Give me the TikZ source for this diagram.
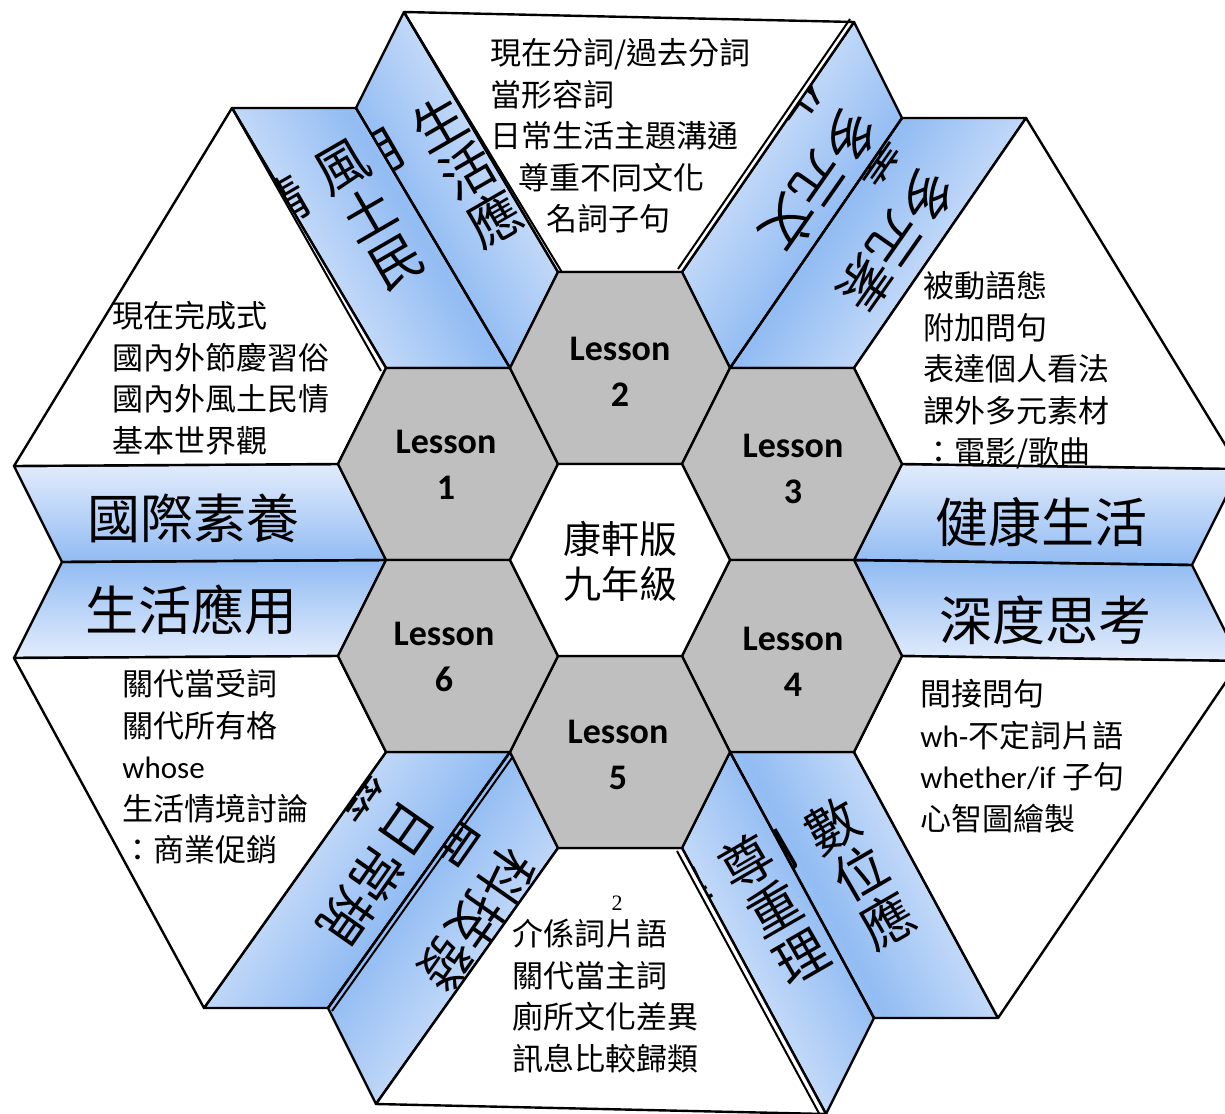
\documentclass[tikz,border=0pt]{standalone}
\usepackage{fontspec}
\setmainfont{Carlito}
\newfontfamily\cjk{Noto Sans CJK TC}
\newfontfamily\numserif{Liberation Serif}
\usetikzlibrary{calc}

\definecolor{hexgray}{RGB}{191,191,191}
\definecolor{ribbonlight}{RGB}{226,236,252}
\definecolor{ribbondark}{RGB}{146,188,243}

\newcommand{\topicfont}{\cjk\fontsize{15.5pt}{20.75pt}\selectfont}
\newcommand{\lessonfont}{\rmfamily\bfseries\fontsize{18pt}{23pt}\selectfont}
\newcommand{\hubfont}{\cjk\fontsize{19pt}{22.5pt}\selectfont}
\newcommand{\themefont}{\cjk\fontsize{26.5pt}{27.5pt}\selectfont}
\newcommand{\lat}[1]{{\rmfamily #1}}

\tikzset{
	hexcell/.style={draw=black,line width=1.2pt,fill=hexgray,line join=round},
	hubcell/.style={hexcell,fill=white},
	petal/.style={draw=black,line width=1.2pt,fill=white,line join=round},
	ribbon/.style={draw=black,line width=1.2pt,line join=round},
	seam/.style={draw=black,line width=1pt},
	lesson/.style={font=\lessonfont,align=center,inner sep=0pt},
	hub/.style={font=\hubfont,align=center,inner sep=0pt},
	topic/.style={font=\topicfont,align=left,anchor=north west,inner sep=0pt},
	theme/.style={font=\themefont,inner sep=0pt},
	foldtext/.style={font=\themefont,align=center,inner sep=0pt}
}

\begin{document}
\begin{tikzpicture}[x=0.5pt,y=-0.5pt]
	\useasboundingbox (0,0) rectangle (1225,1113);
	\clip (0,0) rectangle (1225,1113);

	% hexagon corners
	\foreach \n/\cx/\cy in {C0/620/560, L1/448/464, L2/620/368, L3/792/464,
	                         L4/792/656, L5/620/752, L6/448/656}{
	  \coordinate (\n) at (\cx,\cy);
	  \coordinate (\n-E) at (\cx+110,\cy);
	  \coordinate (\n-NE) at (\cx+62,\cy-96);
	  \coordinate (\n-NW) at (\cx-62,\cy-96);
	  \coordinate (\n-W) at (\cx-110,\cy);
	  \coordinate (\n-SW) at (\cx-62,\cy+96);
	  \coordinate (\n-SE) at (\cx+62,\cy+96);
	}

	% ribbons, two per fold
	\foreach \p/\ua/\uv/\ub/\dx/\dy/\ang in {1/L1-NW/L2-W/L2-NW/-154/-260/120.6,
	    2/L2-NE/L2-E/L3-NE/172/-250/55.5, 3/L3-E/L3-SE/L4-E/338/5/0,
	    4/L5-SE/L4-SW/L4-SE/144/266/-61.6, 5/L6-SW/L5-W/L5-SW/-182/256/54.6,
	    6/L1-W/L1-SW/L6-W/-324/2/0}{
	  \coordinate (o\p a) at ([shift={(\dx,\dy)}]\ua);
	  \coordinate (o\p v) at ([shift={(\dx,\dy)}]\uv);
	  \coordinate (o\p b) at ([shift={(\dx,\dy)}]\ub);
	  \shade[top color=ribbonlight,bottom color=ribbonlight,middle color=ribbondark,shading angle=\ang]
	    (\ua) -- (\uv) -- (\ub) -- (o\p b) -- (o\p v) -- (o\p a) -- cycle;
	  \draw[ribbon] (\ua) -- (\uv) -- (o\p v) -- (o\p a) -- cycle;
	  \draw[ribbon] (\uv) -- (\ub) -- (o\p b) -- (o\p v) -- cycle;
	}

	% white petals
	\draw[petal] (L2-NW) -- (L2-NE) -- (o2a) -- (o1b) -- cycle;
	\draw[petal] (L3-NE) -- (L3-E) -- (o3a) -- (o2b) -- cycle;
	\draw[petal] (L4-E) -- (L4-SE) -- (o4b) -- (o3b) -- cycle;
	\draw[petal] (L5-SE) -- (L5-SW) -- (o5b) -- (o4a) -- cycle;
	\draw[petal] (L6-SW) -- (L6-W) -- (o6b) -- (o5a) -- cycle;
	\draw[petal] (L1-W) -- (L1-NW) -- (o1a) -- (o6a) -- cycle;

	% doubled seams
	\draw[seam] ([shift={(-5,3)}]L1-NW) -- (o1a);
	\draw[seam] ([shift={(-4,-3)}]L2-NE) -- ([shift={(-4,-3)}]o2a);
	\draw[seam] ([shift={(-5,3)}]L5-SE) -- ([shift={(-5,3)}]o4a);
	\draw[seam] ([shift={(4,3)}]L5-W) -- ([shift={(4,3)}]o5v);
	\draw[seam] ([shift={(5,2)}]L2-NW) -- (o1b);

	% ribbon labels
	\begin{scope}
	  \clip (L1-NW) -- (L2-W) -- (o1v) -- (o1a) -- cycle;
	  \node[foldtext,rotate=30,anchor=north] (fold1a) at (330,147) {風\\土\\民};
	  \node[foldtext,rotate=30,anchor=north] (fold1ax) at ([shift={(-61,35)}]fold1a.north) {情};
	\end{scope}
	\begin{scope}
	  \clip (L2-W) -- (L2-NW) -- (o1b) -- (o1v) -- cycle;
	  \node[foldtext,rotate=30,anchor=north] (fold1b) at (427,102) {生\\活\\應};
	  \node[foldtext,rotate=30,anchor=north] (fold1bx) at ([shift={(-61,35)}]fold1b.north) {用};
	\end{scope}
	\begin{scope}
	  \clip (L2-NE) -- (L2-E) -- (o2v) -- (o2a) -- cycle;
	  \node[foldtext,rotate=-125,anchor=west] (fold2a) at (865,115) {多元文};
	  \node[foldtext,rotate=-125,anchor=west] (fold2ax) at ([shift={(-55,-39)}]fold2a.west) {化};
	\end{scope}
	\begin{scope}
	  \clip (L2-E) -- (L3-NE) -- (o2b) -- (o2v) -- cycle;
	  \node[foldtext,rotate=-125,anchor=west] (fold2b) at (942,175) {多元素};
	  \node[foldtext,rotate=-125,anchor=west] (fold2bx) at ([shift={(-55,-39)}]fold2b.west) {養};
	\end{scope}
	\begin{scope}
	  \clip (L4-SW) -- (L4-SE) -- (o4b) -- (o4v) -- cycle;
	  \node[foldtext,rotate=30,anchor=north] (fold4b) at (820,804) {數\\位\\應};
	  \node[foldtext,rotate=30,anchor=north] (fold4bx) at ([shift={(-61,35)}]fold4b.north) {用};
	\end{scope}
	\begin{scope}
	  \clip (L5-SE) -- (L4-SW) -- (o4v) -- (o4a) -- cycle;
	  \node[foldtext,rotate=30,anchor=north] (fold4a) at (734,840) {尊\\重\\理};
	  \node[foldtext,rotate=30,anchor=north] (fold4ax) at ([shift={(-61,35)}]fold4a.north) {解};
	\end{scope}
	\begin{scope}
	  \clip (L6-SW) -- (L5-W) -- (o5v) -- (o5a) -- cycle;
	  \node[foldtext,rotate=-125,anchor=west] (fold5a) at (423,808) {日常規};
	  \node[foldtext,rotate=-125,anchor=west] (fold5ax) at ([shift={(-55,-39)}]fold5a.west) {範};
	\end{scope}
	\begin{scope}
	  \clip (L5-W) -- (L5-SW) -- (o5b) -- (o5v) -- cycle;
	  \node[foldtext,rotate=-125,anchor=west] (fold5b) at (522,855) {科技發};
	  \node[foldtext,rotate=-125,anchor=west] (fold5bx) at ([shift={(-55,-39)}]fold5b.west) {展};
	\end{scope}
	\node[theme] (fold3a) at (1041,522) {健康生活};
	\node[theme] (fold3b) at (1045,620) {深度思考};
	\node[theme] (fold6a) at (193,518) {國際素養};
	\node[theme] (fold6b) at (191,610) {生活應用};

	% lesson ring
	\foreach \n in {L1,L2,L3,L4,L5,L6}
	  \draw[hexcell] (\n-E) -- (\n-NE) -- (\n-NW) -- (\n-W) -- (\n-SW) -- (\n-SE) -- cycle;
	\draw[hubcell] (C0-E) -- (C0-NE) -- (C0-NW) -- (C0-W) -- (C0-SW) -- (C0-SE) -- cycle;

	\node[hub] (hub) at (620,561) {康軒版\\九年級};
	\foreach \i/\x/\y in {1/446/465, 2/620/372, 3/793/469, 4/793/662, 5/618/755, 6/444/657}
	  \node[lesson] (lesson\i) at (\x,\y) {Lesson\\\i};

	% topics
	\node[topic] (topic1) at (112,301) {現在完成式\\國內外節慶習俗\\國內外風土民情\\基本世界觀};
	\node[topic] (topic2) at (490,38) {現在分詞/過去分詞\\當形容詞\\日常生活主題溝通\\
	  \hspace*{14pt}尊重不同文化\\\hspace*{28pt}名詞子句};
	\node[topic] (topic3) at (923,271) {被動語態\\附加問句\\表達個人看法\\課外多元素材\\：電影/歌曲};
	\node[topic] (topic4) at (920,679) {間接問句\\\lat{wh-}不定詞片語\\\lat{whether/if} 子句\\心智圖繪製};
	\node[topic] (topic5) at (512,919) {介係詞片語\\關代當主詞\\廁所文化差異\\訊息比較歸類};
	\node[topic] (topic6) at (122,669) {關代當受詞\\關代所有格\\\lat{whose}\\生活情境討論\\：商業促銷};
	\node[font=\numserif\fontsize{11pt}{13pt}\selectfont,inner sep=0pt] (mark) at (617,903) {2};
\end{tikzpicture}
\end{document}
